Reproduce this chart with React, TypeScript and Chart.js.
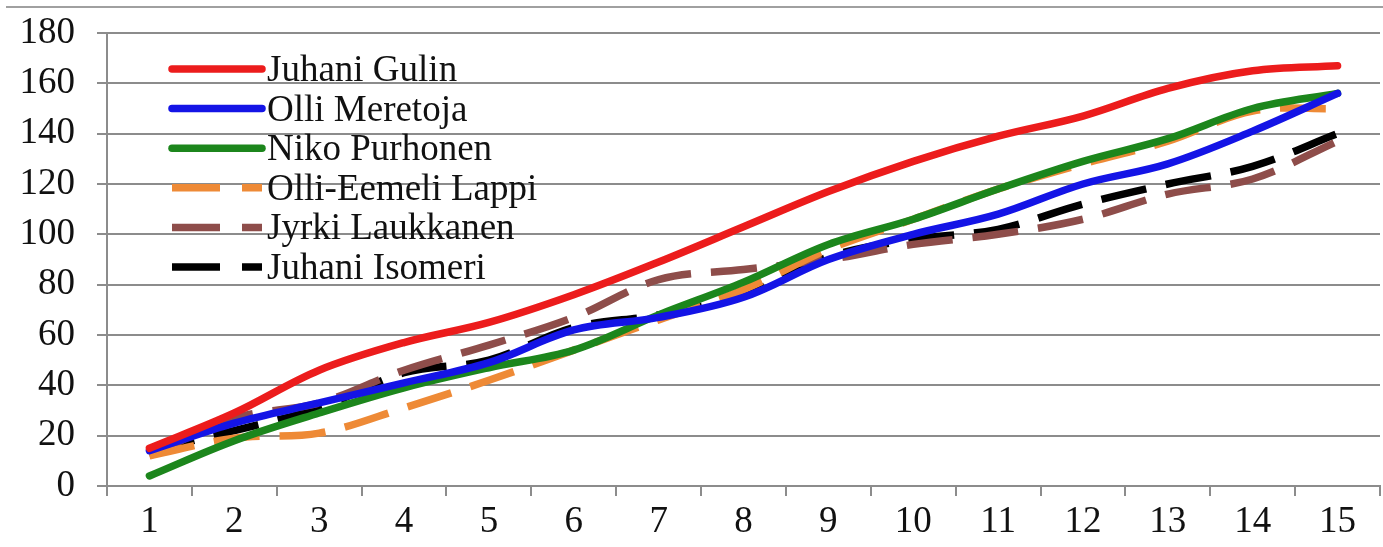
import React, { useEffect, useRef } from "react";
import { Chart, registerables } from "chart.js";

Chart.register(...registerables);

const categories = ["1", "2", "3", "4", "5", "6", "7", "8", "9", "10", "11", "12", "13", "14", "15"];
const juhaniGulin = [15, 29, 46, 57, 65, 76, 89, 103, 117, 129, 139, 147, 158, 165, 167];
const olliMeretoja = [14, 25, 33, 41, 49, 62, 67, 75, 90, 100, 108, 120, 128, 141, 156];
const nikoPurhonen = [4, 18, 29, 39, 47, 54, 68, 81, 96, 106, 118, 129, 138, 150, 156];
const olliEemeliLappi = [12, 19, 21, 31, 42, 54, 66, 78, 94, 106, 118, 128, 137, 149, 150];
const jyrkiLaukkanen = [12, 27, 33, 46, 56, 67, 82, 86, 90, 96, 100, 106, 116, 122, 137];
const juhaniIsomeri = [14, 22, 31, 45, 50, 63, 68, 76, 91, 98, 102, 112, 120, 127, 140];
const yTicks = { min: 0, max: 180, step: 20 };

const FONT = "'Liberation Serif', 'Times New Roman', serif";
const GRID = "#8c8c8c";

const legendPlugin = {
  id: "innerLegend",
  afterDatasetsDraw(chart: any) {
    const ctx = chart.ctx;
    ctx.save();
    chart.data.datasets.forEach((ds: any, i: number) => {
      const y = 69 + i * 39.6;
      ctx.beginPath();
      ctx.strokeStyle = ds.borderColor;
      ctx.lineWidth = 7.5;
      ctx.lineCap = ds.borderDash && ds.borderDash.length ? "butt" : "round";
      ctx.setLineDash(ds.borderDash && ds.borderDash.length ? [48, 22] : []);
      ctx.moveTo(172, y);
      ctx.lineTo(262, y);
      ctx.stroke();
      ctx.setLineDash([]);
      ctx.fillStyle = "#111";
      ctx.font = `37px ${FONT}`;
      ctx.textBaseline = "alphabetic";
      ctx.textAlign = "left";
      ctx.fillText(ds.label, 267, y + 12);
    });
    ctx.restore();
  },
};

const framePlugin = {
  id: "frameTop",
  beforeDraw(chart: any) {
    const ctx = chart.ctx;
    ctx.save();
    ctx.fillStyle = "#ffffff";
    ctx.fillRect(0, 0, chart.width, chart.height);
    ctx.strokeStyle = "#a0a0a0";
    ctx.lineWidth = 2;
    ctx.beginPath();
    ctx.moveTo(6, 7);
    ctx.lineTo(chart.width, 7);
    ctx.stroke();
    ctx.restore();
  },
};

export default function App() {
  const ref = useRef<HTMLCanvasElement | null>(null);
  useEffect(() => {
    if (!ref.current) return;
    const mk = (label: string, data: number[], color: string, dashed: boolean) => ({
      label,
      data,
      borderColor: color,
      backgroundColor: color,
      borderWidth: 7.5,
      borderDash: dashed ? [46, 20] : [],
      borderCapStyle: dashed ? "butt" : "round",
      borderJoinStyle: "round",
      pointRadius: 0,
      tension: 0.35,
      fill: false,
    });
    const chart = new Chart(ref.current, {
      type: "line",
      data: {
        labels: categories,
        datasets: [
          mk("Juhani Gulin", juhaniGulin, "#ec1c1c", false),
          mk("Olli Meretoja", olliMeretoja, "#1414e6", false),
          mk("Niko Purhonen", nikoPurhonen, "#1c861c", false),
          mk("Olli-Eemeli Lappi", olliEemeliLappi, "#ee8a36", true),
          mk("Jyrki Laukkanen", jyrkiLaukkanen, "#8e4d4a", true),
          mk("Juhani Isomeri", juhaniIsomeri, "#000000", true),
        ] as any,
      },
      options: {
        animation: false,
        responsive: true,
        maintainAspectRatio: false,
        layout: { padding: { top: 33, right: 3, left: 0, bottom: 0 } },
        plugins: { legend: { display: false }, tooltip: { enabled: false } },
        scales: {
          x: {
            type: "category",
            offset: true,
            afterFit: (s: any) => {
              s.height = 61;
              s.paddingLeft = 0;
              s.paddingRight = 0;
            },
            grid: {
              offset: true,
              drawOnChartArea: false,
              drawTicks: true,
              tickLength: 10,
              color: GRID,
              lineWidth: 2,
            },
            border: { display: true, color: GRID, width: 2 },
            ticks: {
              color: "#111",
              font: { family: FONT, size: 37 },
              padding: 4,
              maxRotation: 0,
              autoSkip: false,
            },
          },
          y: {
            min: yTicks.min,
            max: yTicks.max,
            afterFit: (s: any) => {
              s.width = 107;
              s.paddingTop = 0;
              s.paddingBottom = 0;
            },
            grid: {
              color: GRID,
              lineWidth: 2,
              tickLength: 10,
              drawTicks: true,
            },
            border: { display: true, color: GRID, width: 2 },
            ticks: {
              stepSize: yTicks.step,
              color: "#111",
              font: { family: FONT, size: 37 },
              padding: 22,
            },
          },
        },
      },
      plugins: [framePlugin, legendPlugin],
    });
    return () => chart.destroy();
  }, []);
  return (
    <div style={{ position: "fixed", left: 0, top: 0, width: 1383, height: 547, background: "#fff" }}>
      <canvas ref={ref} />
    </div>
  );
}
